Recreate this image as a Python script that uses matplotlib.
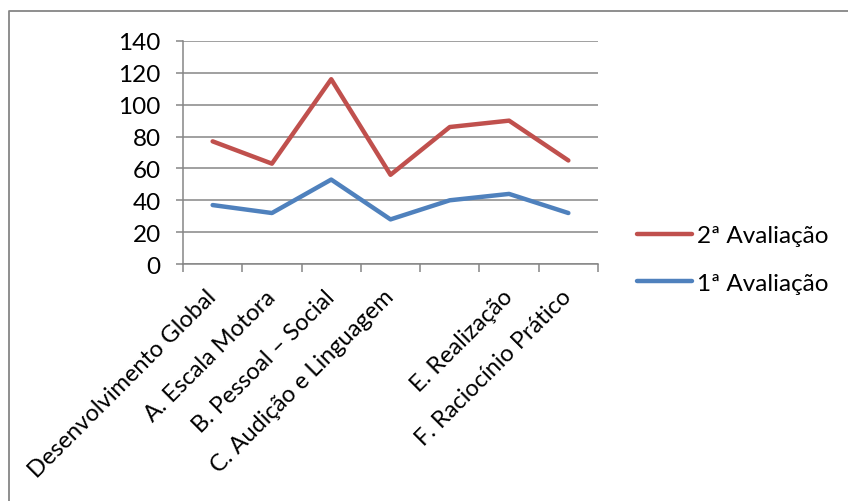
import matplotlib.pyplot as plt
from matplotlib.lines import Line2D
import numpy as np

plt.rcParams['font.family'] = ['Lato', 'DejaVu Sans']

categorias = ["Desenvolvimento Global", "A. Escala Motora", "B. Pessoal – Social",
              "C. Audição e Linguagem", "", "E. Realização", "F. Raciocínio Prático"]
aval_1 = [37, 32, 53, 28, 40, 44, 32]
aval_2 = [77, 63, 116, 56, 86, 90, 65]
y_ticks = [0, 20, 40, 60, 80, 100, 120, 140]

W, H = 848, 502
fig = plt.figure(figsize=(W / 100, H / 100), dpi=100)
ax = fig.add_axes([183 / W, 1 - 265 / H, (598 - 183) / W, (265 - 42) / H])

x = np.arange(len(categorias))
ax.plot(x, aval_2, color='#C0504D', lw=3.2, label='2ª Avaliação', solid_capstyle='round')
ax.plot(x, aval_1, color='#4F81BD', lw=3.2, label='1ª Avaliação', solid_capstyle='round')

ax.set_xlim(-0.5, len(categorias) - 0.5)
ax.set_ylim(0, 140)
ax.set_yticks(y_ticks)
ax.set_yticklabels([str(v) for v in y_ticks], fontsize=17.5)
ax.yaxis.grid(True, color='#868686', lw=1.1)
ax.set_axisbelow(True)

# marcas do eixo x entre categorias, rotulos no centro
ax.set_xticks(np.arange(len(categorias) + 1) - 0.5)
ax.set_xticklabels([])
ax.tick_params(axis='x', length=6, color='#868686', width=1.1)
ax.tick_params(axis='y', length=5, color='#868686', width=1.1, pad=11)
for i, nome in enumerate(categorias):
    ax.annotate(nome, xy=(i, 0), xycoords='data', xytext=(0, -21), textcoords='offset points',
                rotation=45, rotation_mode='anchor', ha='right', va='center', fontsize=17)

for s in ['top', 'right']:
    ax.spines[s].set_visible(False)
for s in ['left', 'bottom']:
    ax.spines[s].set_color('#868686')
    ax.spines[s].set_linewidth(1.1)

fig.legend(loc='upper left', bbox_to_anchor=(637 / W, 1 - 226 / H), frameon=False,
           borderpad=0, borderaxespad=0, fontsize=17.5, handlelength=2.25,
           handletextpad=0.2, labelspacing=1.1)

# moldura do grafico (apenas topo e esquerda)
fig.add_artist(Line2D([8.5 / W, 8.5 / W, 1], [0, 1 - 11.5 / H, 1 - 11.5 / H],
                      transform=fig.transFigure, color='#868686', lw=1.3))

fig.savefig('out.png', dpi=100)
